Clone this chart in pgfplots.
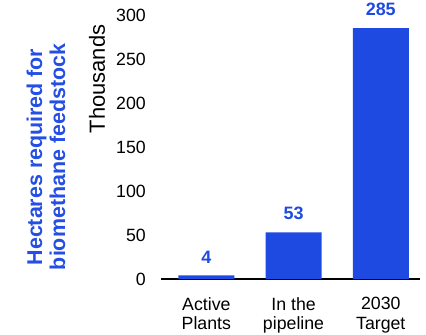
\documentclass[border=0pt]{standalone}
\usepackage{fontspec}
\setmainfont{Liberation Sans}
\usepackage{pgfplots}
\pgfplotsset{compat=1.18}
\definecolor{barblue}{RGB}{31,74,226}
\definecolor{titleblue}{RGB}{36,78,228}
\begin{document}
\begin{tikzpicture}
\begin{axis}[
  at={(161bp,56bp)}, anchor=south west,
  scale only axis, width=259bp, height=264bp,
  xmin=-0.52, xmax=2.45, ymin=0, ymax=300,
  clip=false,
  /pgf/number format/assume math mode=true,
  axis x line=bottom, axis y line=left,
  x axis line style={-, line width=2bp, black},
  y axis line style={draw=none},
  major tick length=0pt,
  xtick={0,1,2},
  xticklabels={Active\\Plants, In the\\pipeline, 2030\\Target},
  xticklabel style={align=center, anchor=north, inner sep=0pt, yshift=-18bp,
    font=\fontsize{17.8}{20}\selectfont},
  ytick={0,50,100,150,200,250,300},
  yticklabel style={anchor=east, inner sep=0pt, xshift=-15bp,
    font=\fontsize{17.8}{20}\selectfont},
  ybar, bar width=56bp,
  nodes near coords,
  nodes near coords style={font=\bfseries\fontsize{18}{20}\selectfont, text=barblue,
    anchor=south, inner sep=0pt, yshift=12bp},
]
\addplot[fill=barblue, draw=none] coordinates {(0,4) (1,53) (2,285)};
\end{axis}
\node[rotate=90, font=\fontsize{22}{24}\selectfont] at (97bp,256bp) {Thousands};
\node[rotate=90, align=center, text=titleblue, font=\bfseries\fontsize{21.5}{23}\selectfont] at (46bp,178bp) {Hectares required for\\biomethane feedstock};
\pgfresetboundingbox
\useasboundingbox (0,0) rectangle (426bp,335bp);
\end{tikzpicture}
\end{document}
